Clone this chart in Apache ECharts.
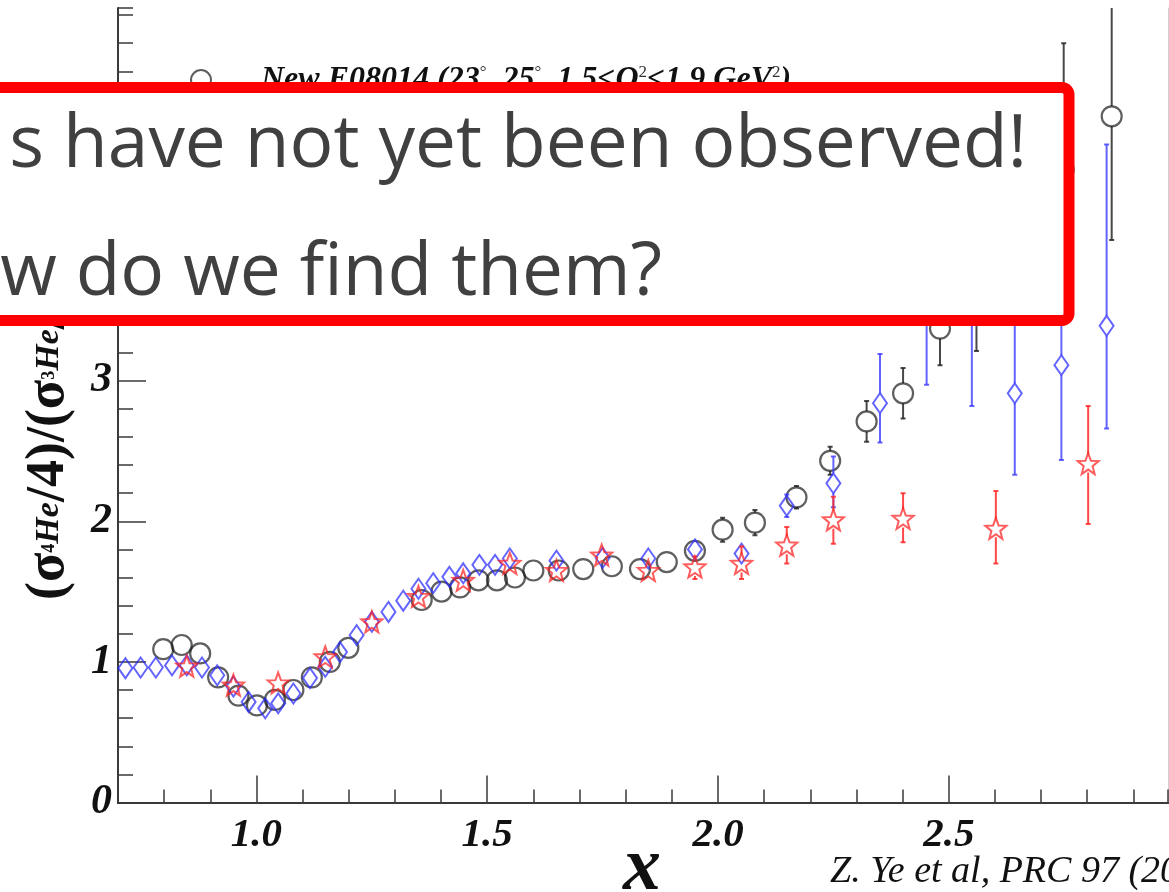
<!DOCTYPE html>
<html>
<head>
<meta charset="utf-8">
<script src="https://cdn.jsdelivr.net/npm/echarts@6/dist/echarts.min.js"></script>
<style>
html, body { margin: 0; padding: 0; background: #fff; }
#main { width: 1169px; height: 892px; }
</style>
</head>
<body>
<div id="main"></div>
<script>
var chart = echarts.init(document.getElementById('main'));

// New E08014 (open circles)
var newX = [0.798, 0.838, 0.878, 0.917, 0.961, 1.001, 1.040, 1.080, 1.120, 1.159, 1.199,
    1.358, 1.401, 1.441, 1.481, 1.521, 1.560, 1.600, 1.655, 1.708, 1.770, 1.831, 1.889,
    1.950, 2.010, 2.080, 2.170, 2.243, 2.322, 2.401, 2.481, 2.560, 2.749, 2.853];
var newY = [1.09, 1.12, 1.06, 0.89, 0.76, 0.69, 0.73, 0.80, 0.89, 1.00, 1.10,
    1.44, 1.50, 1.53, 1.58, 1.58, 1.60, 1.65, 1.65, 1.66, 1.68, 1.66, 1.71,
    1.79, 1.94, 1.99, 2.17, 2.43, 2.71, 2.91, 3.37, 3.70, 4.50, 4.88];
var newErr = [0.02, 0.02, 0.02, 0.02, 0.02, 0.02, 0.02, 0.02, 0.02, 0.02, 0.02,
    0.03, 0.03, 0.03, 0.03, 0.03, 0.03, 0.03, 0.03, 0.03, 0.03, 0.03, 0.03,
    0.05, 0.085, 0.09, 0.08, 0.10, 0.145, 0.18, 0.26, 0.49, 0.90, 0.88];

// E02019 (diamonds)
var oldX = [0.716, 0.749, 0.782, 0.817, 0.849, 0.882, 0.915, 0.950, 0.983, 1.019, 1.047,
    1.080, 1.116, 1.149, 1.181, 1.217, 1.250, 1.286, 1.318, 1.351, 1.383, 1.418, 1.448,
    1.483, 1.517, 1.549, 1.650, 1.750, 1.849, 1.950, 2.051, 2.149, 2.250, 2.351, 2.452,
    2.550, 2.643, 2.744, 2.842];
var oldY = [0.955, 0.96, 0.96, 0.975, 0.975, 0.96, 0.905, 0.825, 0.715, 0.67, 0.705,
    0.775, 0.885, 0.965, 1.07, 1.19, 1.285, 1.355, 1.435, 1.52, 1.56, 1.605, 1.63,
    1.69, 1.69, 1.735, 1.72, 1.74, 1.735, 1.80, 1.77, 2.11, 2.27, 2.84, 3.75,
    3.80, 2.91, 3.11, 3.39];
var oldErrLo = [0.02, 0.02, 0.02, 0.02, 0.02, 0.02, 0.02, 0.02, 0.02, 0.02, 0.02,
    0.02, 0.02, 0.02, 0.02, 0.02, 0.02, 0.02, 0.02, 0.02, 0.02, 0.02, 0.02,
    0.02, 0.02, 0.03, 0.04, 0.04, 0.04, 0.05, 0.05, 0.08, 0.17, 0.28, 0.78,
    0.98, 0.58, 0.675, 0.73];
var oldErrHi = [0.02, 0.02, 0.02, 0.02, 0.02, 0.02, 0.02, 0.02, 0.02, 0.02, 0.02,
    0.02, 0.02, 0.02, 0.02, 0.02, 0.02, 0.02, 0.02, 0.02, 0.02, 0.02, 0.02,
    0.02, 0.02, 0.03, 0.04, 0.04, 0.04, 0.05, 0.05, 0.08, 0.19, 0.35, 0.85,
    1.00, 0.60, 0.70, 1.29];

// CLAS (stars)
var clasX = [0.849, 0.950, 1.047, 1.149, 1.250, 1.351, 1.448, 1.549, 1.650, 1.748,
    1.849, 1.950, 2.051, 2.149, 2.250, 2.401, 2.602, 2.802];
var clasY = [0.97, 0.835, 0.85, 1.035, 1.285, 1.465, 1.58, 1.70, 1.65, 1.76,
    1.65, 1.675, 1.70, 1.83, 2.01, 2.02, 1.95, 2.41];
var clasErrLo = [0.03, 0.03, 0.03, 0.03, 0.03, 0.03, 0.03, 0.03, 0.04, 0.05,
    0.05, 0.085, 0.11, 0.13, 0.17, 0.17, 0.25, 0.43];
var clasErrHi = [0.03, 0.03, 0.03, 0.03, 0.03, 0.03, 0.03, 0.03, 0.04, 0.05,
    0.05, 0.075, 0.12, 0.13, 0.165, 0.18, 0.265, 0.41];

var xTickLabels = ['1.0', '1.5', '2.0', '2.5'];

var nameNew = 'New E08014 (23°, 25°, 1.5<Q²<1.9 GeV²)';
var nameOld = 'E02019 (18°, Q²≈2.7 GeV²)';
var nameClas = 'CLAS (1.4<Q²<2.6 GeV²)';

var serif = '"Liberation Serif", "Times New Roman", serif';
var xMin = 0.7, xMax = 2.975, yMin = 0, yMax = 5.65;
var gridLeft = 118, gridRight = 1, gridTop = 8, gridBottom = 89.5;
var plotW = 1169 - gridLeft - gridRight;
var pxPerX = plotW / (xMax - xMin);

function starPath() {
    var pts = [];
    for (var i = 0; i < 10; i++) {
        var r = i % 2 ? 0.42 : 1;
        var a = -Math.PI / 2 + i * Math.PI / 5;
        pts.push((50 + 50 * r * Math.cos(a)).toFixed(1) + ',' + (50 + 50 * r * Math.sin(a)).toFixed(1));
    }
    return 'path://M' + pts.join('L') + 'Z';
}

function points(xs, ys) {
    return xs.map(function (x, i) { return [x, ys[i]]; });
}
function bars(xs, ys, lo, hi) {
    return xs.map(function (x, i) { return [x, ys[i] - lo[i], ys[i] + hi[i], ys[i]]; });
}

function errorBar(color, gap) {
    return function (params, api) {
        var x = api.value(0);
        var lo = api.coord([x, api.value(1)]);
        var hi = api.coord([x, api.value(2)]);
        var c = api.coord([x, api.value(3)]);
        var style = { stroke: color, lineWidth: 2 };
        var kids = [];
        if (lo[1] - c[1] > gap) {
            kids.push({ type: 'line', shape: { x1: c[0], y1: c[1] + gap, x2: c[0], y2: lo[1] }, style: style });
            kids.push({ type: 'line', shape: { x1: c[0] - 2.5, y1: lo[1], x2: c[0] + 2.5, y2: lo[1] }, style: style });
        }
        if (c[1] - hi[1] > gap) {
            kids.push({ type: 'line', shape: { x1: c[0], y1: c[1] - gap, x2: c[0], y2: hi[1] }, style: style });
            kids.push({ type: 'line', shape: { x1: c[0] - 2.5, y1: hi[1], x2: c[0] + 2.5, y2: hi[1] }, style: style });
        }
        return { type: 'group', children: kids };
    };
}

var axisColor = '#3a3a3a';

var option = {
    backgroundColor: '#fff',
    animation: false,
    grid: [
        { left: gridLeft, right: gridRight, top: gridTop, bottom: gridBottom },
        { left: gridLeft + (1.0 - xMin) * pxPerX, width: 1.5 * pxPerX, top: gridTop, bottom: gridBottom }
    ],
    legend: {
        orient: 'vertical',
        left: 190,
        top: 64,
        padding: 0,
        itemGap: 20,
        itemWidth: 20,
        itemHeight: 20,
        data: [nameNew, nameOld, nameClas],
        formatter: function (name) {
            if (name === nameNew) {
                return '{t|New E08014 (23}{d|°}{t|, 25}{d|°}{t|, 1.5<Q}{d|2}{t|<1.9 GeV}{d|2}{t|)}';
            }
            return '{t|' + name + '}';
        },
        textStyle: {
            padding: [0, 0, 0, 45],
            rich: {
                t: { fontFamily: serif, fontWeight: 'bold', fontStyle: 'italic', fontSize: 32, color: '#111' },
                d: { fontFamily: serif, fontSize: 17, color: '#333', verticalAlign: 'top' }
            }
        }
    },
    xAxis: [
        {
            type: 'value', gridIndex: 0, position: 'bottom', min: xMin, max: xMax, interval: 0.1,
            axisLine: { lineStyle: { color: axisColor, width: 2 } },
            axisTick: { inside: true, length: 13, lineStyle: { color: axisColor, width: 1.5 } },
            axisLabel: { show: false },
            splitLine: { show: false }
        },
        {
            type: 'value', gridIndex: 1, position: 'bottom', min: 1.0, max: 2.5, interval: 0.5,
            axisLine: { show: false },
            axisTick: { inside: true, length: 27, lineStyle: { color: axisColor, width: 1.5 } },
            axisLabel: {
                margin: 12,
                fontFamily: serif, fontWeight: 'bold', fontStyle: 'italic', fontSize: 41, color: '#111',
                formatter: function (v) {
                    var s = v.toFixed(1);
                    return xTickLabels.indexOf(s) >= 0 ? s : '';
                }
            },
            splitLine: { show: false }
        },
        {
            type: 'value', gridIndex: 0, position: 'top', min: xMin, max: xMax,
            axisLine: { lineStyle: { color: axisColor, width: 2 } },
            axisTick: { show: false }, axisLabel: { show: false }, splitLine: { show: false }
        }
    ],
    yAxis: [
        {
            type: 'value', gridIndex: 0, position: 'left', min: yMin, max: yMax, interval: 1,
            axisLine: { lineStyle: { color: axisColor, width: 2 } },
            axisTick: { inside: true, length: 28, lineStyle: { color: axisColor, width: 1.5 } },
            axisLabel: {
                margin: 6, showMaxLabel: false,
                fontFamily: serif, fontWeight: 'bold', fontStyle: 'italic', fontSize: 42, color: '#111'
            },
            splitLine: { show: false }
        },
        {
            type: 'value', gridIndex: 0, position: 'left', offset: 0, min: yMin, max: yMax, interval: 0.2,
            axisLine: { show: false },
            axisTick: { inside: true, length: 15, lineStyle: { color: axisColor, width: 1.5 } },
            axisLabel: { show: false },
            splitLine: { show: false }
        },
        {
            type: 'value', gridIndex: 0, position: 'right', min: yMin, max: yMax,
            axisLine: { lineStyle: { color: '#cfcfcf', width: 1 } },
            axisTick: { show: false }, axisLabel: { show: false }, splitLine: { show: false }
        },
        {
            type: 'value', gridIndex: 1, min: yMin, max: yMax, show: false
        }
    ],
    series: [
        {
            name: nameNew + ' err', type: 'custom', clip: true, z: 2,
            renderItem: errorBar('rgba(40,40,40,0.85)', 10),
            encode: { x: 0, y: [1, 2] },
            data: bars(newX, newY, newErr, newErr)
        },
        {
            name: nameNew, type: 'scatter', z: 3,
            symbol: 'circle', symbolSize: 20,
            itemStyle: { color: 'rgba(255,255,255,0)', borderColor: 'rgba(20,20,20,0.85)', borderWidth: 2.2 },
            data: points(newX, newY)
        },
        {
            name: nameOld + ' err', type: 'custom', clip: true, z: 4,
            renderItem: errorBar('rgba(60,60,255,0.8)', 10),
            encode: { x: 0, y: [1, 2] },
            data: bars(oldX, oldY, oldErrLo, oldErrHi)
        },
        {
            name: nameOld, type: 'scatter', z: 5,
            symbol: 'diamond', symbolSize: [14, 20],
            itemStyle: { color: 'rgba(255,255,255,0)', borderColor: 'rgba(40,40,255,0.9)', borderWidth: 2 },
            data: points(oldX, oldY)
        },
        {
            name: nameClas + ' err', type: 'custom', clip: true, z: 6,
            renderItem: errorBar('rgba(255,40,40,0.85)', 9),
            encode: { x: 0, y: [1, 2] },
            data: bars(clasX, clasY, clasErrLo, clasErrHi)
        },
        {
            name: nameClas, type: 'scatter', z: 7,
            symbol: starPath(), symbolSize: 21,
            itemStyle: { color: 'rgba(255,255,255,0)', borderColor: 'rgba(255,30,30,0.9)', borderWidth: 2 },
            data: points(clasX, clasY)
        }
    ],
    graphic: [
        {
            type: 'text', x: 76, y: 600, rotation: Math.PI / 2, z: 50,
            style: {
                text: '{n|(σ}{p|4}{b|He}{n|/4)/(σ}{p|3}{b|He}{n|/3)}',
                align: 'left', verticalAlign: 'bottom',
                rich: {
                    n: { fontFamily: serif, fontWeight: 'bold', fontSize: 54, fill: '#111' },
                    p: { fontFamily: serif, fontWeight: 'bold', fontSize: 18, fill: '#111', verticalAlign: 'middle' },
                    b: { fontFamily: serif, fontWeight: 'bold', fontStyle: 'italic', fontSize: 34, fill: '#111' }
                }
            }
        },
        {
            type: 'text', x: 642, y: 907, z: 50,
            style: {
                text: 'x', align: 'center', verticalAlign: 'bottom',
                font: 'bold italic 76px ' + serif, fill: '#111'
            }
        },
        {
            type: 'text', x: 830, y: 872, z: 50,
            style: {
                text: 'Z. Ye et al, PRC 97 (2018)', align: 'left', verticalAlign: 'middle',
                font: 'italic 38px ' + serif, fill: '#111'
            }
        },
        {
            type: 'rect', z: 100,
            shape: { x: -30, y: 87.5, width: 1099, height: 233, r: 7 },
            style: { fill: '#fff', stroke: '#ff0000', lineWidth: 11 }
        },
        {
            type: 'text', x: 1027, y: 146, z: 101,
            style: {
                text: 's have not yet been observed!', align: 'right', verticalAlign: 'middle',
                font: '73px "Open Sans", "Noto Sans", sans-serif', fill: '#404040'
            }
        },
        {
            type: 'text', x: 662, y: 274, z: 101,
            style: {
                text: 'w do we find them?', align: 'right', verticalAlign: 'middle',
                font: '73px "Open Sans", "Noto Sans", sans-serif', fill: '#404040'
            }
        }
    ]
};

chart.setOption(option);
</script>
</body>
</html>
